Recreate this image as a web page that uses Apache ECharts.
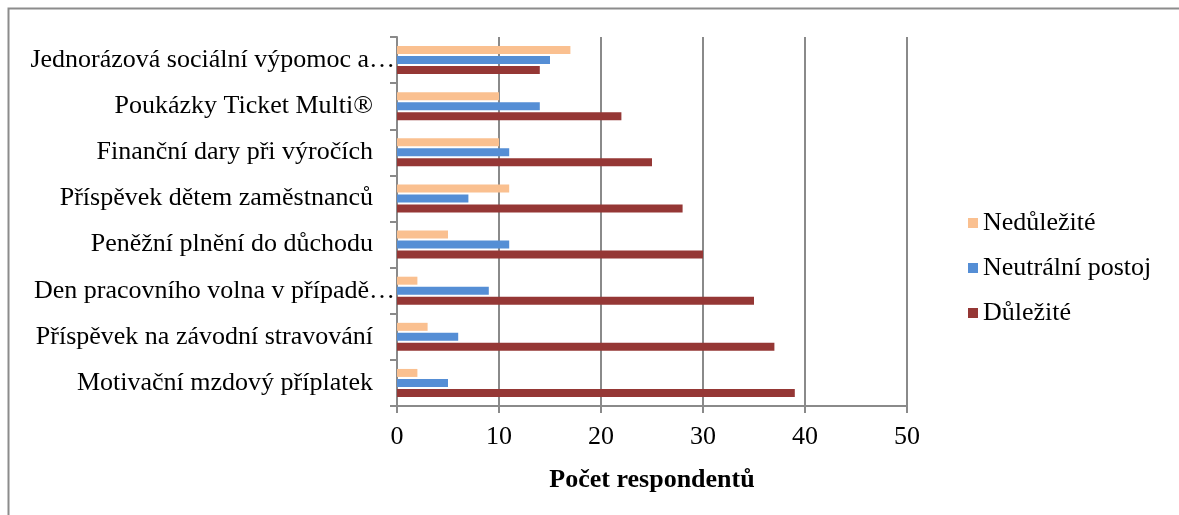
<!DOCTYPE html>
<html>
<head>
<meta charset="utf-8">
<style>
  html, body { margin: 0; padding: 0; background: #fff; }
  #chart { width: 1179px; height: 515px; }
</style>
<script src="https://cdn.jsdelivr.net/npm/echarts@6/dist/echarts.min.js"></script>
</head>
<body>
<div id="chart"></div>
<script>
// Benefit items, listed from the bottom of the axis upward
const categories = [
  'Motivační mzdový příplatek',
  'Příspěvek na závodní stravování',
  'Den pracovního volna v případě…',
  'Peněžní plnění do důchodu',
  'Příspěvek dětem zaměstnanců',
  'Finanční dary při výročích',
  'Poukázky Ticket Multi®',
  'Jednorázová sociální výpomoc a…'
];

// Respondent counts per answer
const dulezite    = [39, 37, 35, 30, 28, 25, 22, 14];
const neutralni   = [5, 6, 9, 11, 7, 11, 14, 15];
const nedulezite  = [2, 3, 2, 5, 11, 10, 10, 17];

const xTicks = { min: 0, max: 50, interval: 10 };

const FONT = '"Liberation Serif", "Times New Roman", serif';
const GRID_GRAY = '#8a8a8a';

const chart = echarts.init(document.getElementById('chart'), null, { renderer: 'canvas' });

chart.setOption({
  animation: false,
  backgroundColor: '#fff',
  textStyle: { fontFamily: FONT, color: '#000' },
  graphic: [{
    type: 'rect',
    shape: { x: 8.5, y: 8.5, width: 1200, height: 520 },
    style: { fill: 'none', stroke: '#8c8c8c', lineWidth: 2 },
    silent: true,
    z: -10
  }],
  grid: { left: 397, right: 272, top: 37, bottom: 109, containLabel: false },
  legend: {
    orient: 'vertical',
    left: 963,
    top: 205,
    itemGap: 19,
    itemWidth: 10,
    itemHeight: 10,
    icon: 'rect',
    data: ['Nedůležité', 'Neutrální postoj', 'Důležité'],
    textStyle: { fontFamily: FONT, fontSize: 26, color: '#000', padding: [0, 0, 0, 0] }
  },
  xAxis: {
    type: 'value',
    min: xTicks.min,
    max: xTicks.max,
    interval: xTicks.interval,
    name: 'Počet respondentů',
    nameLocation: 'middle',
    nameGap: 61,
    nameTextStyle: { fontFamily: FONT, fontSize: 26, fontWeight: 'bold', color: '#000' },
    axisLine: { show: true, lineStyle: { color: GRID_GRAY, width: 2 } },
    axisTick: { show: true, length: 7, lineStyle: { color: GRID_GRAY, width: 2 } },
    axisLabel: { fontFamily: FONT, fontSize: 26, color: '#000', margin: 18 },
    splitLine: { show: true, lineStyle: { color: GRID_GRAY, width: 2 } }
  },
  yAxis: {
    type: 'category',
    data: categories,
    axisLine: { show: true, lineStyle: { color: GRID_GRAY, width: 2 } },
    axisTick: { show: true, length: 7, lineStyle: { color: GRID_GRAY, width: 2 } },
    axisLabel: {
      fontFamily: FONT, fontSize: 26, color: '#000', margin: 2,
      // shortened names run closer to the axis than full ones
      formatter: v => v.endsWith('…') ? '{cut|' + v + '}' : '{full|' + v + '}',
      rich: {
        cut: { fontFamily: FONT, fontSize: 26, color: '#000' },
        full: { fontFamily: FONT, fontSize: 26, color: '#000', padding: [0, 22, 0, 0] }
      }
    },
    splitLine: { show: false }
  },
  series: [
    {
      name: 'Nedůležité', type: 'bar', data: nedulezite,
      barWidth: 8, barGap: '25%',
      itemStyle: { color: '#fac090' }
    },
    {
      name: 'Neutrální postoj', type: 'bar', data: neutralni,
      barWidth: 8, barGap: '25%',
      itemStyle: { color: '#558ed5' }
    },
    {
      name: 'Důležité', type: 'bar', data: dulezite,
      barWidth: 8, barGap: '25%',
      itemStyle: { color: '#953735' }
    }
  ]
});
</script>
</body>
</html>
